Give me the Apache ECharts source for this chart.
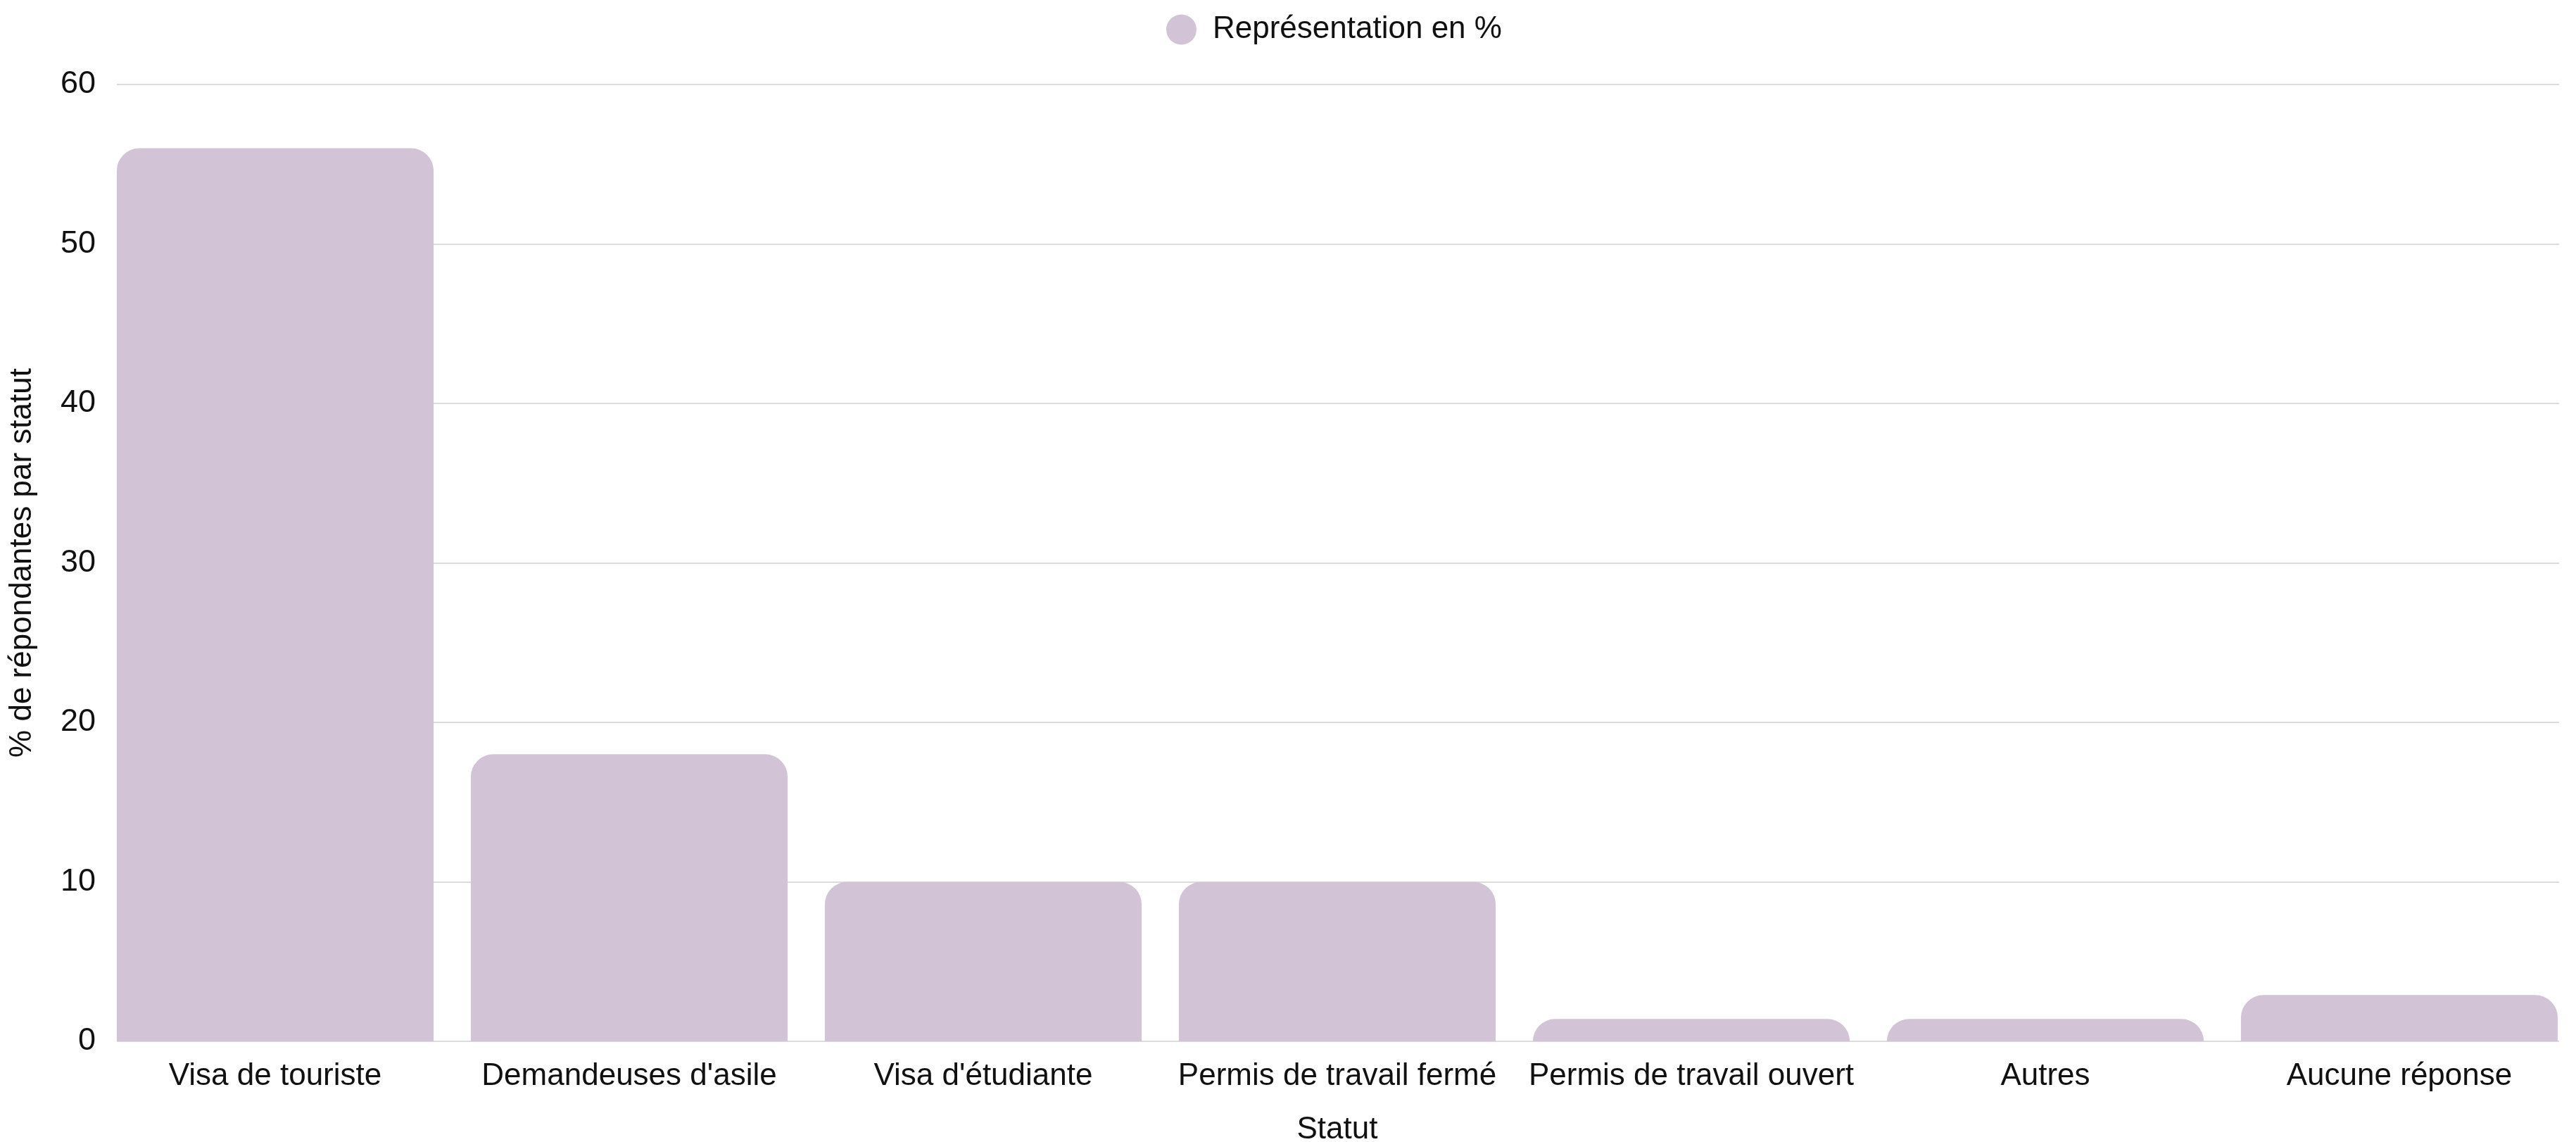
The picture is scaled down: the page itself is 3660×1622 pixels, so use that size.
<!DOCTYPE html>
<html>
<head>
<meta charset="utf-8">
<script src="https://cdn.jsdelivr.net/npm/echarts@6/dist/echarts.min.js"></script>
<style>
html,body{margin:0;padding:0;background:#fff;}
#c{width:3660px;height:1622px;}
</style>
</head>
<body>
<div id="c"></div>
<script>
const categories = ["Visa de touriste", "Demandeuses d'asile", "Visa d'étudiante", "Permis de travail fermé", "Permis de travail ouvert", "Autres", "Aucune réponse"];
const values = [56, 18, 10, 10, 1.4, 1.4, 2.9];
const seriesName = "Représentation en %";
const yTicks = [0, 10, 20, 30, 40, 50, 60];
const xTitle = "Statut";
const yTitle = "% de répondantes par statut";

const FONT = "Liberation Sans";
const TXT = "#111111";
const chart = echarts.init(document.getElementById('c'), null, {renderer: 'canvas'});
chart.setOption({
  animation: false,
  backgroundColor: '#ffffff',
  textStyle: {fontFamily: FONT},
  legend: {
    data: [seriesName],
    left: 1652, top: 15,
    icon: 'circle',
    itemWidth: 43, itemHeight: 43,
    textStyle: {fontFamily: FONT, fontSize: 44, color: TXT, padding: [0, 0, 0, 18]}
  },
  grid: [
    {left: 166, top: 120, width: 3470, height: 1359, outerBoundsMode: 'none', containLabel: false},
    {left: 139.5, top: 120, width: 3521, height: 1359, outerBoundsMode: 'none', containLabel: false}
  ],
  xAxis: [
    {gridIndex: 0, type: 'value', show: false, min: 0, max: 1},
    {
      gridIndex: 1, type: 'category', data: categories,
      axisLine: {show: false}, axisTick: {show: false},
      axisLabel: {fontFamily: FONT, fontSize: 44, color: TXT, margin: 28, interval: 0},
      name: xTitle, nameLocation: 'middle', nameGap: 104,
      nameTextStyle: {fontFamily: FONT, fontSize: 44, color: TXT}
    }
  ],
  yAxis: [
    {
      gridIndex: 0, type: 'value', min: yTicks[0], max: yTicks[yTicks.length - 1], interval: yTicks[1] - yTicks[0],
      axisLine: {show: false}, axisTick: {show: false},
      axisLabel: {fontFamily: FONT, fontSize: 45, color: TXT, margin: 30},
      splitLine: {show: true, lineStyle: {color: '#dcdcdc', width: 2}},
      name: yTitle, nameLocation: 'middle', nameGap: 112, nameRotate: 90,
      nameTextStyle: {fontFamily: FONT, fontSize: 44, color: TXT}
    },
    {
      gridIndex: 1, type: 'value', min: yTicks[0], max: yTicks[yTicks.length - 1], show: false,
      splitLine: {show: false}
    }
  ],
  series: [{
    name: seriesName,
    type: 'bar',
    xAxisIndex: 1, yAxisIndex: 1,
    data: values,
    barCategoryGap: '10.5%',
    itemStyle: {color: '#d2c4d6', borderRadius: [32, 32, 0, 0]}
  }]
});
</script>
</body>
</html>
